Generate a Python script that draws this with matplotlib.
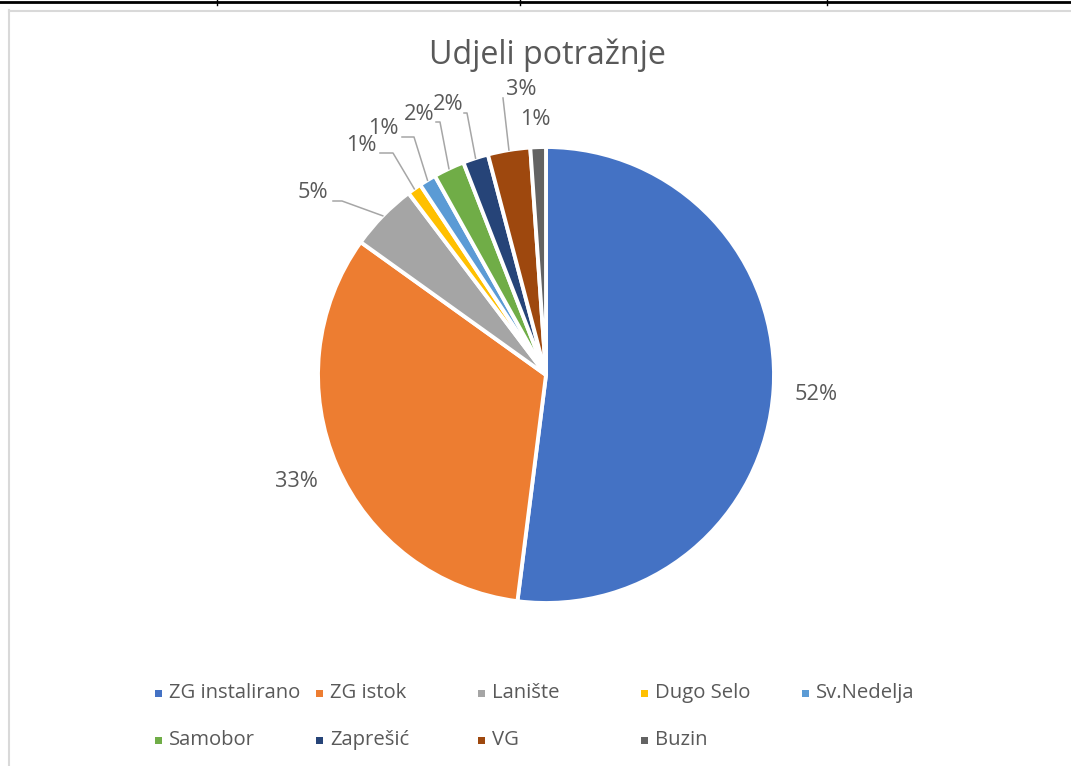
import matplotlib.pyplot as plt
from matplotlib.patches import Rectangle
from matplotlib.lines import Line2D
import numpy as np

plt.rcParams['font.family'] = ['Open Sans', 'DejaVu Sans']

# udjeli potražnje po području (%)
labels = ['ZG instalirano', 'ZG istok', 'Lanište', 'Dugo Selo', 'Sv.Nedelja',
          'Samobor', 'Zaprešić', 'VG', 'Buzin']
shares = [52.0, 32.9, 4.8, 1.0, 1.2, 2.2, 1.8, 3.0, 1.1]
colors = ['#4472C4', '#ED7D31', '#A5A5A5', '#FFC000', '#5B9BD5',
          '#70AD47', '#264478', '#9E480E', '#636363']

W, H = 1071, 766
cx, cy, R = 546, 375, 228   # centar i radijus kruga u pikselima

fig = plt.figure(figsize=(W / 100, H / 100), dpi=100)
ax = fig.add_axes([0, 0, 1, 1])

wedges, _ = ax.pie(shares, colors=colors, startangle=90, counterclock=False,
                   wedgeprops=dict(edgecolor='white', linewidth=2.8))
ax.set_xlim(-cx / R, (W - cx) / R)
ax.set_ylim((cy - H) / R, cy / R)
ax.set_aspect('equal')
ax.axis('off')


def px(x, y):
    return (x - cx) / R, (cy - y) / R


txt = '#595959'
lead = '#A6A6A6'

# položaji oznaka (pikseli) i koljeno linije vodilice
label_pos = [(816, 395), (296, 482), (313, 193), (361, 146), (383, 129),
             (419, 115), (448, 105), (521, 90), (535, 120)]
knees = [None, None, [(333, 201), (342, 201)], [(380, 153), (393, 153)],
         [(402, 137), (414, 137)], [(436, 122), (440, 122)],
         [(464, 113), (467, 113)], [(503, 98)], None]

cum = np.cumsum([0] + shares)
for i, s in enumerate(shares):
    ax.text(*px(*label_pos[i]), f'{s:.0f}%', ha='center', va='center',
            fontsize=15.7, color=txt)
    if knees[i] is not None:
        mid = 90 - 360 * (cum[i] + cum[i + 1]) / 2 / 100
        a = np.deg2rad(mid)
        pts = [px(*k) for k in knees[i]] + [(np.cos(a), np.sin(a))]
        ax.plot([p[0] for p in pts], [p[1] for p in pts], color=lead, lw=1.1)

fig.text(547 / W, 1 - 55 / H, 'Udjeli potražnje', ha='center', va='center',
         fontsize=23.2, color=txt)

# legenda u dva reda
col_x = [158, 319, 481, 644, 805]
row_y = [693, 740]
for i, lab in enumerate(labels):
    x = col_x[i % 5]
    y = row_y[i // 5]
    fig.add_artist(Rectangle((x / W - 3.5 / W, 1 - y / H - 3.5 / H), 7 / W, 7 / H,
                             transform=fig.transFigure, color=colors[i], lw=0))
    fig.text((x + 11) / W, 1 - y / H, lab, ha='left', va='center',
             fontsize=14.6, color=txt)

# okvir grafikona i rub tablice iznad
fig.add_artist(Line2D([9 / W, 9 / W], [0, 1 - 10 / H], transform=fig.transFigure,
                      color='#D9D9D9', lw=1.5))
fig.add_artist(Line2D([9 / W, 1], [1 - 11 / H, 1 - 11 / H],
                      transform=fig.transFigure, color='#D9D9D9', lw=1.5))
fig.add_artist(Line2D([0, 1], [1 - 1.5 / H, 1 - 1.5 / H],
                      transform=fig.transFigure, color='black', lw=2))
for xv in [217, 520, 827]:
    fig.add_artist(Line2D([xv / W, xv / W], [1 - 5 / H, 1],
                          transform=fig.transFigure, color='black', lw=1))

fig.savefig('out.png', dpi=100, facecolor='white')
